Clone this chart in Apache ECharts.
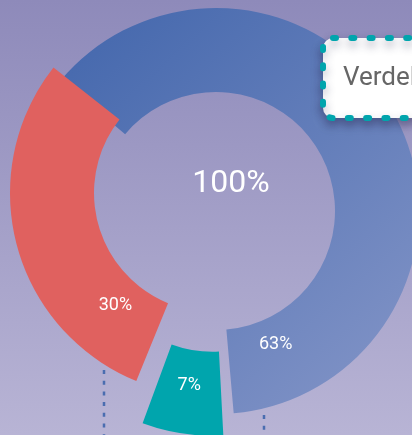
<!DOCTYPE html>
<html>
<head>
<meta charset="utf-8">
<script src="https://cdn.jsdelivr.net/npm/echarts@6/dist/echarts.min.js"></script>
<style>
html, body { margin: 0; padding: 0; }
#chart { width: 412px; height: 435px; }
</style>
</head>
<body>
<div id="chart"></div>
<script>
var myChart = echarts.init(document.getElementById('chart'));

// data
var categories = ['Blauw', 'Groen', 'Rood'];
var values = [63, 7, 30];
var titleText = 'Verdeling';

var colors = [
    new echarts.graphic.LinearGradient(0, 0, 1, 1, [
        {offset: 0, color: '#4266ac'},
        {offset: 1, color: '#8596c8'}
    ]),
    '#00a5ad',
    '#e0615f'
];
// label offsets from the default inside position
var labelOffsets = [[-86, 209], [1, -9], [61, 71]];

var total = values.reduce(function (a, b) { return a + b; }, 0);

// which slices each ring draws (red sits on its own, shifted ring)
function buildData(visible) {
    return categories.map(function (name, i) {
        var show = visible.indexOf(i) >= 0;
        return {
            name: name,
            value: values[i],
            selected: i === 1,
            itemStyle: {color: show ? colors[i] : 'rgba(0,0,0,0)'},
            label: {show: show}
        };
    });
}

function pieSeries(center, visible) {
    return {
        type: 'pie',
        center: center,
        radius: [119, 203],
        startAngle: 140.8,
        padAngle: 2,
        selectedMode: 'multiple',
        selectedOffset: 22,
        silent: true,
        animation: false,
        data: buildData(visible),
        label: {
            position: 'inside',
            formatter: '{c}%',
            color: '#fff',
            fontFamily: 'Roboto',
            fontSize: 18
        },
        labelLine: {show: false},
        labelLayout: function (params) {
            var o = labelOffsets[params.dataIndex];
            return {dx: o[0], dy: o[1]};
        }
    };
}

myChart.setOption({
    backgroundColor: new echarts.graphic.LinearGradient(0, 0, 0, 1, [
        {offset: 0, color: '#8e8aba'},
        {offset: 1, color: '#b8b4d5'}
    ]),
    title: {
        text: titleText,
        left: 323,
        top: 38,
        padding: [27, 20],
        backgroundColor: '#fff',
        borderColor: '#00a5ad',
        borderWidth: 6,
        borderType: [3, 15.3],
        borderCap: 'round',
        borderRadius: 10,
        shadowColor: 'rgba(40,40,80,0.45)',
        shadowBlur: 10,
        shadowOffsetY: 5,
        textStyle: {
            color: '#666',
            fontFamily: 'Roboto',
            fontWeight: 'normal',
            fontSize: 26
        }
    },
    graphic: [
        {
            type: 'text',
            x: 231,
            y: 184,
            style: {
                text: total + '%',
                fill: '#fff',
                font: '32px Roboto',
                align: 'center',
                verticalAlign: 'middle'
            }
        },
        {
            type: 'line',
            shape: {x1: 104, y1: 370, x2: 104, y2: 435},
            style: {stroke: '#4a6db0', lineWidth: 2.5, lineDash: [4, 6.7]}
        },
        {
            type: 'line',
            shape: {x1: 264, y1: 415, x2: 264, y2: 435},
            style: {stroke: '#4a6db0', lineWidth: 2.5, lineDash: [4, 6.7]}
        }
    ],
    series: [
        pieSeries([216, 211], [0, 1]),
        pieSeries([213, 193], [2])
    ]
});
</script>
</body>
</html>
